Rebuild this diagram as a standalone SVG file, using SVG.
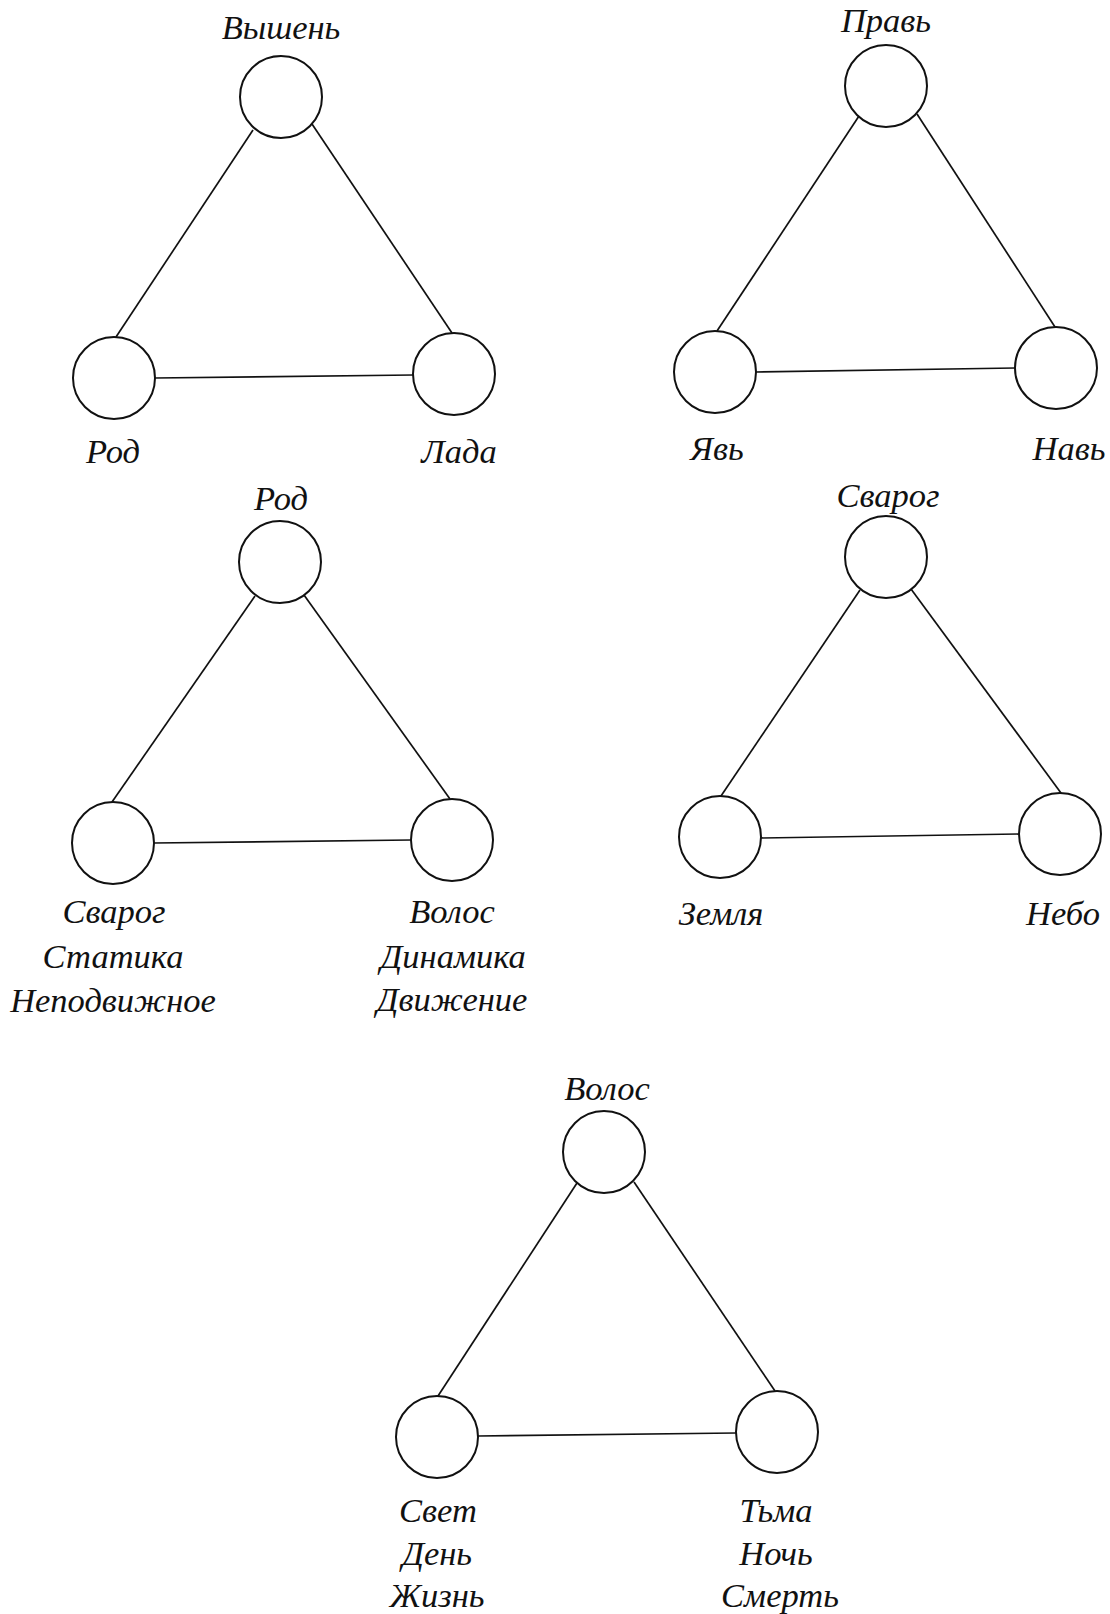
<svg xmlns="http://www.w3.org/2000/svg" width="1110" height="1614" viewBox="0 0 1110 1614">
<style>
.n{fill:none;stroke:#111;stroke-width:2}
.e{stroke:#111;stroke-width:1.7;fill:none}
text{font-family:"Liberation Serif","DejaVu Serif",serif;font-style:italic;font-size:34.5px;fill:#111;text-anchor:middle}
</style>
<rect width="1110" height="1614" fill="#fff"/>
<g id="connectors">
<line class="e" x1="253" y1="130" x2="116" y2="337"/>
<line class="e" x1="312" y1="124" x2="452" y2="333"/>
<line class="e" x1="155" y1="378" x2="413" y2="375"/>
<line class="e" x1="859" y1="116" x2="717" y2="331"/>
<line class="e" x1="917" y1="114" x2="1055" y2="327"/>
<line class="e" x1="756" y1="372" x2="1015" y2="368"/>
<line class="e" x1="255" y1="596" x2="112" y2="802"/>
<line class="e" x1="304" y1="595" x2="450" y2="799"/>
<line class="e" x1="154" y1="843" x2="411" y2="840"/>
<line class="e" x1="860" y1="590" x2="721" y2="796"/>
<line class="e" x1="911" y1="589" x2="1061" y2="793"/>
<line class="e" x1="761" y1="838" x2="1019" y2="834"/>
<line class="e" x1="577" y1="1183" x2="438" y2="1396"/>
<line class="e" x1="634" y1="1182" x2="775" y2="1391"/>
<line class="e" x1="478" y1="1436" x2="736" y2="1433"/>
</g>
<g id="t1-top"><circle class="n" cx="281" cy="97" r="41"/><text x="281" y="39">Вышень</text></g>
<g id="t1-left"><circle class="n" cx="114" cy="378" r="41"/><text x="113" y="463">Род</text></g>
<g id="t1-right"><circle class="n" cx="454" cy="374" r="41"/><text x="459" y="463">Лада</text></g>
<g id="t2-top"><circle class="n" cx="886" cy="86" r="41"/><text x="886" y="32">Правь</text></g>
<g id="t2-left"><circle class="n" cx="715" cy="372" r="41"/><text x="717" y="460">Явь</text></g>
<g id="t2-right"><circle class="n" cx="1056" cy="368" r="41"/><text x="1069" y="460">Навь</text></g>
<g id="t3-top"><circle class="n" cx="280" cy="562" r="41"/><text x="281" y="510">Род</text></g>
<g id="t3-left"><circle class="n" cx="113" cy="843" r="41"/><text x="114" y="923">Сварог</text><text x="113" y="968">Статика</text><text x="113" y="1012">Неподвижное</text></g>
<g id="t3-right"><circle class="n" cx="452" cy="840" r="41"/><text x="452" y="923">Волос</text><text x="453" y="968">Динамика</text><text x="452" y="1011">Движение</text></g>
<g id="t4-top"><circle class="n" cx="886" cy="557" r="41"/><text x="888" y="507">Сварог</text></g>
<g id="t4-left"><circle class="n" cx="720" cy="837" r="41"/><text x="721" y="925">Земля</text></g>
<g id="t4-right"><circle class="n" cx="1060" cy="834" r="41"/><text x="1063" y="925">Небо</text></g>
<g id="t5-top"><circle class="n" cx="604" cy="1152" r="41"/><text x="607" y="1100">Волос</text></g>
<g id="t5-left"><circle class="n" cx="437" cy="1437" r="41"/><text x="438" y="1522">Свет</text><text x="437" y="1565">День</text><text x="437" y="1607">Жизнь</text></g>
<g id="t5-right"><circle class="n" cx="777" cy="1432" r="41"/><text x="776" y="1522">Тьма</text><text x="776" y="1565">Ночь</text><text x="780" y="1607">Смерть</text></g>
</svg>
